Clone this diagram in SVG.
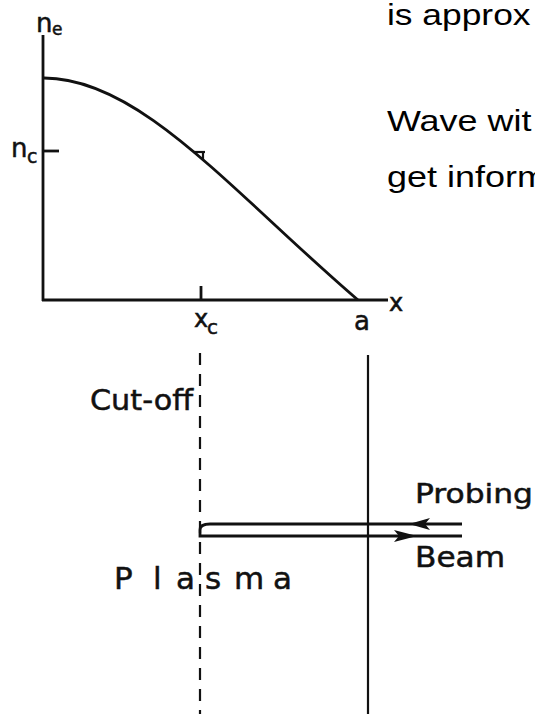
<svg xmlns="http://www.w3.org/2000/svg" width="535" height="714" viewBox="0 0 535 714">
<style>
.ln{stroke:#111;stroke-width:2.8;fill:none;stroke-linecap:butt}
.thin{stroke:#111;stroke-width:2.2;fill:none}
.lab{font-family:"DejaVu Sans","Liberation Sans",sans-serif;fill:#111;stroke:#111;stroke-width:0.5}
.body{font-family:"Liberation Sans",Arial,sans-serif;fill:#000;font-size:29px}
</style>
<rect width="535" height="714" fill="#fff"/>
<g id="text-right">
<text class="body" transform="translate(387,25) scale(1.22,1)">is approx</text>
<text class="body" transform="translate(387,131) scale(1.24,1)">Wave wit</text>
<text class="body" transform="translate(387,187) scale(1.24,1)">get inform</text>
</g>
<g id="axes">
<line class="ln" x1="43" y1="35" x2="43" y2="301"/>
<line class="ln" x1="42" y1="300" x2="388" y2="300"/>
<line class="ln" x1="43" y1="151" x2="59" y2="151"/>
<line class="ln" x1="201" y1="286" x2="201" y2="300"/>
</g>
<g id="curve">
<path class="ln" d="M44,78 C140,78 232,192 358,300"/>
<line class="thin" x1="193" y1="152" x2="205" y2="152"/>
<line class="thin" x1="203" y1="152" x2="203" y2="160"/>
</g>
<g id="labels-plot">
<text class="lab" x="36" y="32" font-size="26">n</text>
<text class="lab" x="52" y="35" font-size="17">e</text>
<text class="lab" x="11" y="157" font-size="26">n</text>
<text class="lab" x="27" y="163" font-size="19">c</text>
<text class="lab" x="194" y="327" font-size="24">x</text>
<text class="lab" x="207" y="334" font-size="20">c</text>
<text class="lab" x="354" y="330" font-size="26">a</text>
<text class="lab" x="389" y="311" font-size="24">x</text>
</g>
<g id="lines-lower">
<line class="thin" x1="200" y1="353" x2="200" y2="714" stroke-dasharray="12,9"/>
<line class="thin" x1="368" y1="355" x2="368" y2="714"/>
</g>
<g id="beam">
<path class="ln" d="M462,524 L210,524 Q200,524 200,530 L200,536 L462,536"/>
<polygon points="409,524 430,518 425,524 430,530" fill="#111"/>
<polygon points="417,536 394,530 399,536 394,542" fill="#111"/>
</g>
<g id="labels-lower">
<text class="lab" x="90" y="410" font-size="28" textLength="103" lengthAdjust="spacingAndGlyphs">Cut-off</text>
<text class="lab" x="415" y="503" font-size="27" textLength="118" lengthAdjust="spacingAndGlyphs">Probing</text>
<text class="lab" x="415" y="567" font-size="28" textLength="90" lengthAdjust="spacingAndGlyphs">Beam</text>
<text class="lab" font-size="31" y="589"><tspan x="114">P</tspan><tspan x="153">l</tspan><tspan x="176">a</tspan><tspan x="205">s</tspan><tspan x="234">m</tspan><tspan x="273">a</tspan></text>
</g>
</svg>
